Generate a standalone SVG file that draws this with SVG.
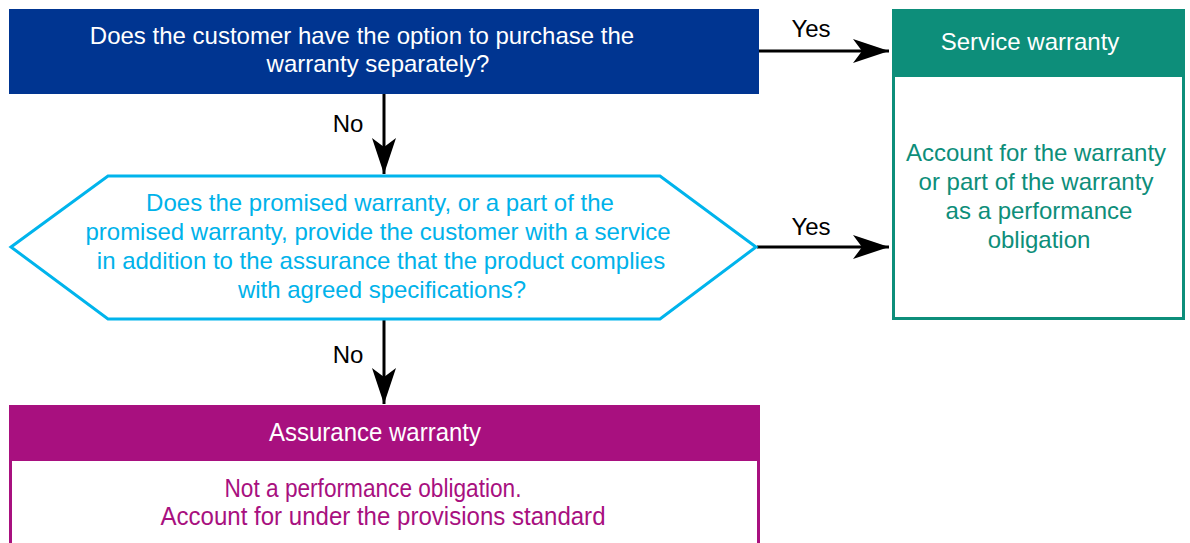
<svg xmlns="http://www.w3.org/2000/svg" width="1190" height="543" viewBox="0 0 1190 543">
<defs>
<style>
text{font-family:"Liberation Sans",Arial,sans-serif;text-anchor:middle}
.t{font-size:24px}
.n{font-size:26px}
.w{fill:#ffffff}
.lbl{font-size:24px;fill:#000}
.edge{stroke:#000;stroke-width:3;fill:none}
</style>
<marker id="ahb" viewBox="0 0 20 20" refX="20" refY="10" markerWidth="36" markerHeight="24" markerUnits="userSpaceOnUse" orient="auto" preserveAspectRatio="none">
<path d="M0,0 L20,10 L0,20 L5,10 z" fill="#000"/>
</marker>
</defs>
<g id="connectors">
<line class="edge" x1="759" y1="51" x2="889" y2="51" marker-end="url(#ahb)"/>
<text class="lbl" x="811" y="37">Yes</text>
<line class="edge" x1="384" y1="94" x2="384" y2="174" marker-end="url(#ahb)"/>
<text class="lbl" x="348" y="132">No</text>
<line class="edge" x1="757" y1="247" x2="889" y2="247" marker-end="url(#ahb)"/>
<text class="lbl" x="811" y="235">Yes</text>
<line class="edge" x1="384" y1="320" x2="384" y2="404" marker-end="url(#ahb)"/>
<text class="lbl" x="348" y="363">No</text>
</g>
<g id="q1">
<rect x="9" y="9" width="750" height="85" fill="#003591"/>
<text class="t w" x="362" y="44">Does the customer have the option to purchase the</text>
<text class="t w" x="378" y="72">warranty separately?</text>
</g>
<g id="q2">
<polygon points="11,247 108,176 660,176 756,247 660,319 108,319" fill="#fff" stroke="#00b4ec" stroke-width="3"/>
<g fill="#00b2ea" class="t">
<text x="380" y="211">Does the promised warranty, or a part of the</text>
<text x="378" y="240">promised warranty, provide the customer with a service</text>
<text x="381" y="269">in addition to the assurance that the product complies</text>
<text x="382" y="298">with agreed specifications?</text>
</g>
</g>
<g id="service">
<rect x="893.5" y="10.5" width="290" height="308" fill="#fff" stroke="#0d8e7a" stroke-width="3"/>
<rect x="892" y="9" width="293" height="68" fill="#0d8e7a"/>
<text class="t w" x="1030" y="50">Service warranty</text>
<g fill="#0d8e7a" class="t">
<text x="1036" y="161">Account for the warranty</text>
<text x="1036" y="190">or part of the warranty</text>
<text x="1039" y="219">as a performance</text>
<text x="1039" y="248">obligation</text>
</g>
</g>
<g id="assurance">
<rect x="10.5" y="406.5" width="748" height="150" fill="#fff" stroke="#a8107f" stroke-width="3"/>
<rect x="9" y="405" width="751" height="56" fill="#a8107f"/>
<text class="n w" x="375" y="441" textLength="212" lengthAdjust="spacingAndGlyphs">Assurance warranty</text>
<g fill="#a8107f" class="n">
<text x="373" y="497" textLength="297" lengthAdjust="spacingAndGlyphs">Not a performance obligation.</text>
<text x="383" y="525" textLength="445" lengthAdjust="spacingAndGlyphs">Account for under the provisions standard</text>
</g>
</g>
</svg>
